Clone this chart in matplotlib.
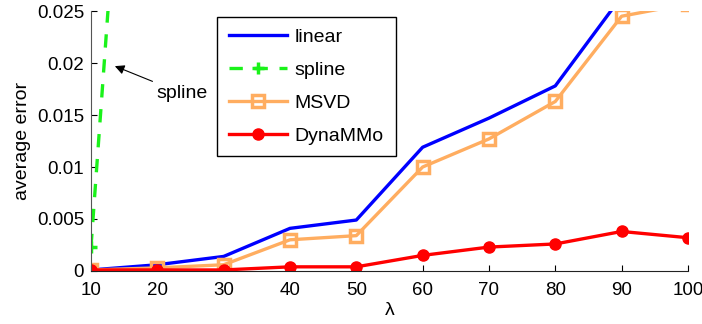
import matplotlib
matplotlib.use('Agg')
import matplotlib.pyplot as plt

plt.rcParams['font.family'] = ['Liberation Sans', 'DejaVu Sans']

# data
lam = [10, 20, 30, 40, 50, 60, 70, 80, 90, 100]
linear = [0.0001, 0.0006, 0.0014, 0.0041, 0.0049, 0.0119, 0.0147, 0.0178, 0.0264, 0.030]
spline_lam = [10, 20]
spline = [0.0023, 0.091]
msvd = [0.0001, 0.0003, 0.0006, 0.0030, 0.0034, 0.0100, 0.0127, 0.0163, 0.0245, 0.0257]
dynammo = [0.0001, 0.0001, 0.0001, 0.0004, 0.0004, 0.0015, 0.0023, 0.0026, 0.0038, 0.0032]

yticks = [0, 0.005, 0.01, 0.015, 0.02, 0.025]
ytick_labels = ['0', '0.005', '0.01', '0.015', '0.02', '0.025']

fig = plt.figure(figsize=(7.02, 3.24), dpi=100)
ax = fig.add_axes([0.1296, 0.1636, 0.8504, 0.8024])

ax.plot(lam, linear, color=(0, 0, 1), lw=2.4, label='linear')
ax.plot(spline_lam, spline, color=(0.1, 0.95, 0.1), lw=2.4, ls=(0, (4, 3.5)),
        marker='+', markersize=9, markeredgewidth=2.5, label='spline')
ax.plot(lam, msvd, color='#ffad60', lw=2.4, marker='s', markersize=8,
        markerfacecolor='none', markeredgewidth=2.5, label='MSVD')
ax.plot(lam, dynammo, color=(1, 0, 0), lw=2.4, marker='o', markersize=8,
        label='DynaMMo')

ax.set_xlim(10, 100)
ax.set_ylim(0, 0.025)
ax.set_xticks(lam)
ax.set_yticks(yticks)
ax.set_yticklabels(ytick_labels)
ax.tick_params(direction='in', labelsize=13.5, length=4, width=0.8)
ax.tick_params(axis='x', pad=8)
ax.tick_params(axis='y', pad=5)
ax.spines['top'].set_visible(False)
ax.spines['right'].set_visible(False)
ax.spines['left'].set_color('#555555')
ax.spines['bottom'].set_color('#222222')

ax.set_xlabel('λ', fontsize=14, labelpad=2)
ax.set_ylabel('average error', fontsize=14, labelpad=4)

ax.annotate('spline', xy=(13.6, 0.0197), xytext=(19.8, 0.0171),
            fontsize=14, va='center', ha='left',
            arrowprops=dict(arrowstyle='-|>', color='black', lw=0.8,
                            mutation_scale=14, shrinkA=1, shrinkB=0))

leg = ax.legend(loc='upper left', bbox_to_anchor=(0.211, 0.977), fontsize=14,
                handlelength=3.0, handletextpad=0.4, borderpad=0.6,
                labelspacing=0.78, borderaxespad=0,
                fancybox=False, framealpha=1, edgecolor='black')
leg.get_frame().set_linewidth(1.0)

fig.savefig('out.png', dpi=100)
